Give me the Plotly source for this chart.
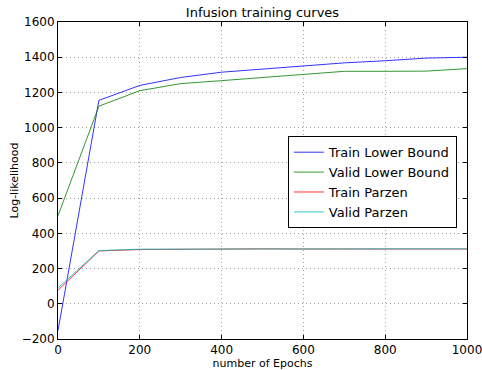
import plotly.graph_objects as go

epochs = [0, 100, 200, 300, 400, 500, 600, 700, 800, 900, 1000]
train_lb = [-152, 1155, 1240, 1285, 1315, 1333, 1352, 1368, 1380, 1395, 1400]
valid_lb = [500, 1122, 1210, 1250, 1267, 1285, 1302, 1320, 1320, 1321, 1335]
train_parzen = [77, 300, 308, 310, 311, 312, 311, 312, 311, 311, 311]
valid_parzen = [90, 302, 310, 311, 312, 313, 312, 314, 312, 312, 312]

tick_vals_y = [-200, 0, 200, 400, 600, 800, 1000, 1200, 1400, 1600]
tick_vals_x = [0, 200, 400, 600, 800, 1000]

font = "DejaVu Sans, sans-serif"
L, R, T, B = 58, 15, 22, 31
W, H = 482, 370
pw = W - L - R
ph = H - T - B

fig = go.Figure()
series = [
    ("Train Lower Bound", train_lb, "#0000ff"),
    ("Valid Lower Bound", valid_lb, "#008000"),
    ("Train Parzen", train_parzen, "#ff0000"),
    ("Valid Parzen", valid_parzen, "#00bfbf"),
]
for name, ys, color in series:
    fig.add_trace(go.Scatter(x=epochs, y=ys, mode="lines", name=name,
                             line=dict(color=color, width=1), opacity=0.8))

axis_common = dict(showline=True, linecolor="black", linewidth=1, mirror="ticks",
                   ticks="inside", ticklen=4, tickcolor="black",
                   showgrid=True, gridcolor="#a0a0a0", griddash="1px,3px", gridwidth=1,
                   zeroline=False, automargin=False, ticklabeloverflow="allow",
                   tickfont=dict(family=font, size=12, color="black"))

fig.update_layout(
    width=W, height=H,
    margin=dict(l=L, r=R, t=T, b=B),
    paper_bgcolor="white", plot_bgcolor="white",
    title=dict(text="Infusion training curves", x=(L + W - R) / 2 / W, xanchor="center",
               y=1 - 12 / H, yanchor="middle",
               font=dict(family=font, size=13, color="black")),
    xaxis=dict(range=[0, 1000], tickvals=tick_vals_x,
               title=dict(text="number of Epochs", standoff=2,
                          font=dict(family=font, size=11, color="black")),
               **axis_common),
    yaxis=dict(range=[-200, 1600], tickvals=tick_vals_y, **axis_common),
    annotations=[dict(text="Log-likelihood", textangle=-90, xref="paper", yref="paper",
                      x=-(L - 14) / pw, y=0.5, xanchor="center", yanchor="middle",
                      showarrow=False, font=dict(family=font, size=11, color="black"))],
    legend=dict(x=0.562, y=0.627 + 4 / ph, xanchor="left", yanchor="top",
                bgcolor="white", bordercolor="black", borderwidth=1,
                font=dict(family=font, size=13, color="black"),
                tracegroupgap=0, itemwidth=30),
    showlegend=True,
)

fig.write_html("out.html")
